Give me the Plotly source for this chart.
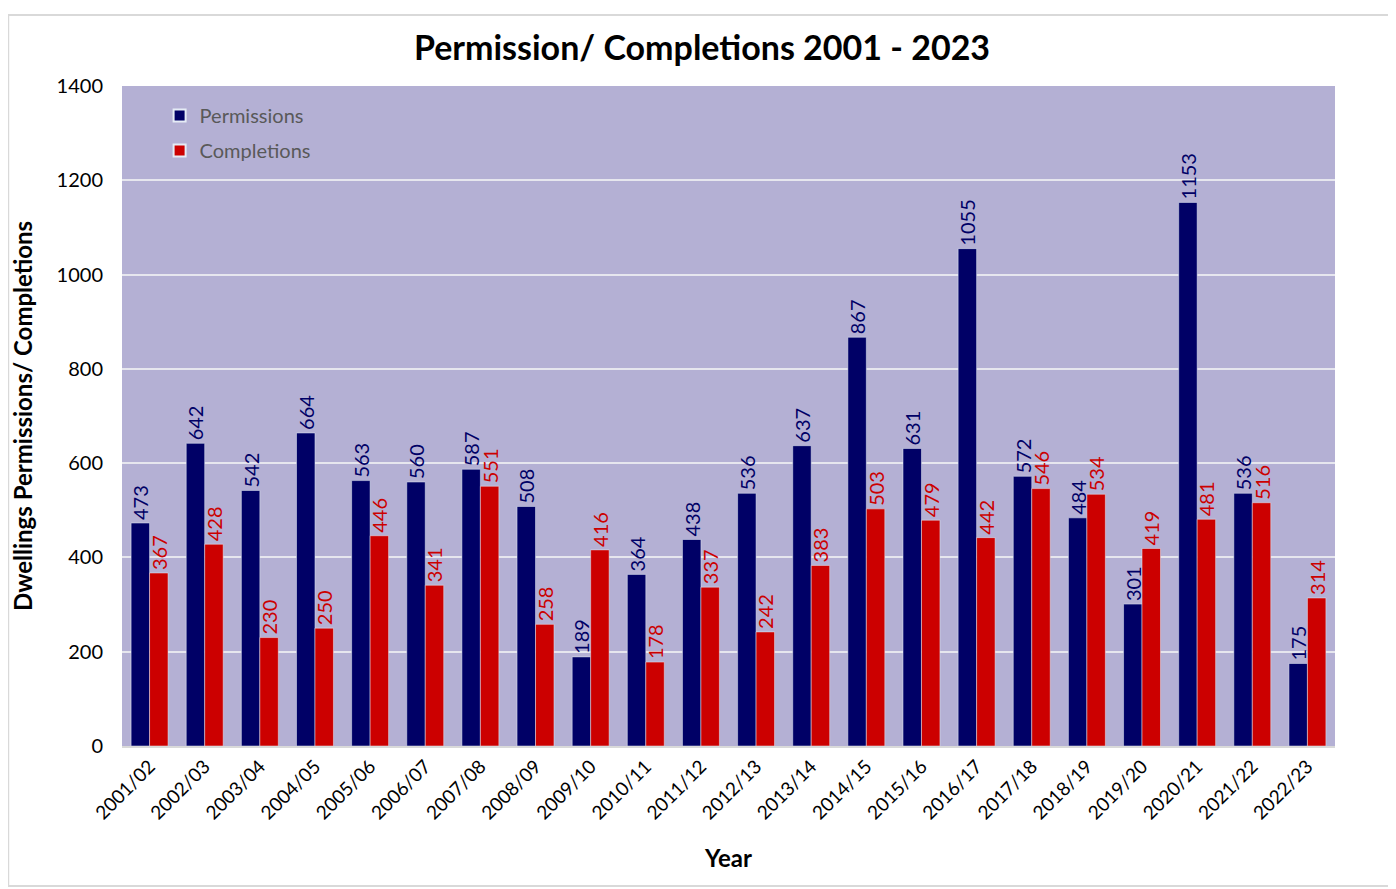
import plotly.graph_objects as go

years = ["2001/02", "2002/03", "2003/04", "2004/05", "2005/06", "2006/07", "2007/08",
         "2008/09", "2009/10", "2010/11", "2011/12", "2012/13", "2013/14", "2014/15",
         "2015/16", "2016/17", "2017/18", "2018/19", "2019/20", "2020/21", "2021/22",
         "2022/23"]
permissions = [473, 642, 542, 664, 563, 560, 587, 508, 189, 364, 438, 536, 637, 867,
               631, 1055, 572, 484, 301, 1153, 536, 175]
completions = [367, 428, 230, 250, 446, 341, 551, 258, 416, 178, 337, 242, 383, 503,
               479, 442, 546, 534, 419, 481, 516, 314]

FONT = "Lato, 'Open Sans', sans-serif"
NAVY = "#000066"
RED = "#CC0000"

fig = go.Figure()
fig.add_trace(go.Bar(x=years, y=permissions, name="Permissions", marker_color=NAVY,
                     legendgroup="p", text=permissions, textposition="outside",
                     textangle=-90, constraintext="none",
                     textfont=dict(color=NAVY, size=20, family=FONT), cliponaxis=False))
fig.add_trace(go.Bar(x=years, y=completions, name="Completions", marker_color=RED,
                     legendgroup="c", text=completions, textposition="outside",
                     textangle=-90, constraintext="none",
                     textfont=dict(color=RED, size=20, family=FONT), cliponaxis=False))

# page body has an 8px margin, so the figure is shifted accordingly
fig.update_layout(
    width=1388, height=881,
    margin=dict(l=111, r=61, t=78, b=143),
    barmode="group", bargap=0.33, bargroupgap=0,
    plot_bgcolor="#B4B0D4", paper_bgcolor="white",
    font=dict(family=FONT, size=19, color="black"),
    title=dict(text="<b>Permission/ Completions 2001 - 2023</b>", x=0.5, xanchor="center",
               y=0.955, yanchor="middle", font=dict(size=34, color="black")),
    legend=dict(x=0.031, y=0.985, xanchor="left", yanchor="top", bgcolor="rgba(0,0,0,0)",
                font=dict(size=20, color="#595959"), tracegroupgap=6,
                itemsizing="constant"),
    shapes=[dict(type="rect", xref="paper", yref="paper", x0=-0.0938, x1=1.0452,
                 y0=-0.212, y1=1.1076, line=dict(color="#D9D9D9", width=2), layer="below")],
)
fig.update_xaxes(tickangle=-45, tickfont=dict(size=19), showgrid=False,
                 title=dict(text="<b>Year</b>", font=dict(size=24), standoff=28),
                 showline=True, linecolor="#D9D9D9", linewidth=2)
fig.update_yaxes(range=[0, 1400], dtick=200, gridcolor="#E6E6EE", gridwidth=2,
                 tickfont=dict(size=20), zeroline=False, ticklabelstandoff=18,
                 title=dict(text="<b>Dwellings Permissions/ Completions</b>", font=dict(size=24),
                            standoff=20))

fig.write_html("out.html")
